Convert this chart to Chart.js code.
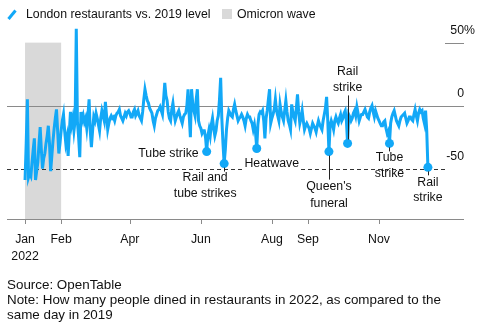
<!DOCTYPE html>
<html><head><meta charset="utf-8">
<script src="https://cdn.jsdelivr.net/npm/chart.js@4"></script>
<style>
html,body{margin:0;padding:0;background:#fff;}
#wrap{position:relative;width:494px;height:333px;font-family:"Liberation Sans",Arial,sans-serif;font-size:12.3px;color:#111;overflow:hidden;}
canvas{position:absolute;left:0;top:0;}
.abs{position:absolute;white-space:nowrap;line-height:14px;}
.foot{position:absolute;left:7px;top:277px;line-height:15px;font-size:13.4px;white-space:nowrap;}
</style></head><body>
<div id="wrap">
<canvas id="c" width="494" height="333"></canvas>
<svg class="abs" style="left:7px;top:9px" width="10" height="11"><line x1="1.5" y1="10" x2="8.5" y2="1.5" stroke="#12a8f7" stroke-width="3"/></svg>
<div class="abs" style="left:26px;top:7px">London restaurants vs. 2019 level</div>
<div class="abs" style="left:222px;top:9px;width:10px;height:10px;background:#d9d9d9"></div>
<div class="abs" style="left:237px;top:7px">Omicron wave</div>
<div class="foot">Source: OpenTable<br>Note: How many people dined in restaurants in 2022, as compared to the<br>same day in 2019</div>
</div>
<script>
// Daily level vs 2019 (%), day 0 = 1 Jan 2022
const janValues = [-59,-30,5,-57,-54,-56,-45,-35,-26,-59,-52,-45,-30,-17,-35,-50,-42,-38,-30,-24,-16,-30,-52,-40,-28,-18,-10,-3,-20,-38,-30];
const febValues = [-20,-12,-7,-20,-30,-25,-40,-22,-5,-15,-10,-20,-12,61,-13,-25,-41,-5,-12,-8,-13,-10,-18,-8,5,-20,-33,-20];
const marValues = [-9,-12,-6,-10,-15,-20,-10,-4,-8,-12,3,-8,-19,-14,-10,-8,-10,-9,-12,-8,-6,-5,-3,-8,-10,-12,-9,-6,-8,-5,-4];
const aprValues = [-6,-9,-9,-5,-3,-8,-6,-4,-8,-10,-12,-5,5,13,8,4,2,-2,-4,-6,-12,-16,-10,-7,-4,-3,-1,-4,-7,5];
const mayValues = [18,8,4,-5,-10,-12,-3,2,-6,-12,-9,-6,-4,-8,-11,-14,-9,-7,-6,0,13,-8,-25,13,2,-4,-8,5,13,-12,-16];
const junValues = [-18,-22,-20,-20,-25,-36.5,-24,-19,-24,-15,-10,-18,-24,-20,-12,-8,5,22,-10,-30,-46,-35,-19,-10,-4,-6,-8,-9,-3,1];
const julValues = [-4,-8,-12,-10,-9,-7,-9,-12,-16,-10,-7,-9,-9,-12,-14,-19,-15,-22,-34,-15,-7,-5,-6,-4,-12,-26,-10,-4,5,13,-14];
const augValues = [-10,-7,-3,5,-4,-8,-12,1,-5,-9,-12,-4,4,-5,-12,-15,-19,1,-5,-9,-12,-2,9,-5,-14,-10,-4,-12,-19,-16,-14];
const sepValues = [-16,-18,-22,-18,-14,-16,-18,-21,-16,-12,-15,-17,-19,-12,-7,-2,7,-12,-36.5,-16,-12,-15,-19,-12,-9,-12,-14,-10,-7,-12];
const octValues = [-10,-6,-4,-12,-30,-7,-9,-12,-10,-6,-4,-8,-1,-6,-12,-9,-7,-7,-5,-3,-6,-9,-10,-5,-2,0,-5,-9,-4,-7,-10];
const novValues = [-12,-14,-16,-16,-13,-12,-18,-22,-20,-30,-14,-9,-6,-4,-8,-12,-14,-16,-12,-9,-8,-7,-6,-10,-14,-12,-9,-9,-11,-12];
const decValues = [-7,-3,-8,-12,-6,-3,-5,-4,-10,-14,-4,-20,-49];

const restaurantLevel = [].concat(janValues,febValues,marValues,aprValues,mayValues,junValues,julValues,augValues,sepValues,octValues,novValues,decValues);

const monthTickDays = [0,31,90,151,212,243,304];
const monthTickLabels = ['Jan','Feb','Apr','Jun','Aug','Sep','Nov'];
const yTickValues = [50,0,-50];
const yTickLabels = ['50','0','-50'];
const omicronDays = [0,31];

const eventDays = [156,171,199,261,277,313,346];
const eventLabels = [['Tube strike'],['Rail and','tube strikes'],['Heatwave'],["Queen's",'funeral'],['Rail','strike'],['Tube','strike'],['Rail','strike']];

const BLUE = '#12a8f7';
const FONT = '12.3px "Liberation Sans", Arial, sans-serif';
const points = restaurantLevel.map((v,i)=>({x:i,y:v}));

// label placement relative to the dot (layout only)
const place = {
  156:{align:'right',dx:-8,dy:[2]},
  171:{align:'center',dx:-19,dy:[14,30],lead:[4,8]},
  199:{align:'center',dx:15,dy:[15],bg:true},
  261:{align:'center',dx:0,dy:[35,52],lead:[4,28]},
  277:{align:'center',dx:0,dy:[-72,-56],lead:[-4,-48]},
  313:{align:'center',dx:0,dy:[14,30],lead:[4,8]},
  346:{align:'center',dx:0,dy:[15,30],lead:[4,8]}
};

function hline(ctx,x0,x1,y){ctx.beginPath();ctx.moveTo(x0,Math.round(y)+0.5);ctx.lineTo(x1,Math.round(y)+0.5);ctx.stroke();}

const decor = {
  id:'decor',
  beforeDatasetsDraw(chart){
    const {ctx,scales:{x,y},chartArea:a}=chart;
    ctx.save();
    const x0=x.getPixelForValue(omicronDays[0]), x1=x.getPixelForValue(omicronDays[1]);
    const yt=y.getPixelForValue(50), yb=a.bottom;
    ctx.fillStyle='#d9d9d9';
    ctx.fillRect(x0,yt,x1-x0,yb-yt);
    ctx.strokeStyle='#8a8a8a'; ctx.lineWidth=1;
    hline(ctx,a.left,a.right,y.getPixelForValue(0));
    hline(ctx,a.right-19,a.right,y.getPixelForValue(50));
    hline(ctx,a.left,a.right,a.bottom);
    monthTickDays.forEach(d=>{
      const px=Math.round(x.getPixelForValue(d))+0.5;
      ctx.beginPath();ctx.moveTo(px,a.bottom);ctx.lineTo(px,a.bottom+5);ctx.stroke();
    });
    ctx.strokeStyle='#333'; ctx.setLineDash([4,3]);
    hline(ctx,a.left,a.right-19,y.getPixelForValue(-50));
    ctx.setLineDash([]);
    ctx.fillStyle='#111'; ctx.font=FONT; ctx.textBaseline='middle';
    ctx.textAlign='center';
    monthTickDays.forEach((d,i)=>{
      ctx.fillText(monthTickLabels[i], x.getPixelForValue(d), a.bottom+21);
    });
    ctx.fillText('2022', x.getPixelForValue(0), a.bottom+38);
    yTickValues.forEach((v,i)=>{
      const py=y.getPixelForValue(v)-12.5;
      ctx.textAlign='right';
      ctx.fillText(yTickLabels[i], a.right, py);
      if(i===0){ctx.textAlign='left';ctx.fillText('%',a.right,py);}
    });
    ctx.restore();
  },
  afterDatasetsDraw(chart){
    const {ctx,scales:{x,y}}=chart;
    ctx.save();
    ctx.font=FONT; ctx.textBaseline='middle';
    eventDays.forEach((d,i)=>{
      const p=place[d];
      const px=x.getPixelForValue(d), py=y.getPixelForValue(restaurantLevel[d]);
      if(p.lead){
        ctx.strokeStyle='#222'; ctx.lineWidth=1;
        ctx.beginPath();ctx.moveTo(Math.round(px)+0.5,py+p.lead[0]);ctx.lineTo(Math.round(px)+0.5,py+p.lead[1]);ctx.stroke();
      }
      ctx.textAlign=p.align;
      eventLabels[i].forEach((t,j)=>{
        const tx=px+p.dx, ty=py+p.dy[j];
        if(p.bg){
          const w=ctx.measureText(t).width;
          ctx.fillStyle='#fff';
          ctx.fillRect(tx-w/2-1,ty-7,w+2,14);
        }
        ctx.fillStyle='#111';
        ctx.fillText(t,tx,ty);
      });
    });
    ctx.restore();
  }
};

new Chart(document.getElementById('c'),{
  type:'line',
  data:{datasets:[{
    data:points,
    borderColor:BLUE,
    borderWidth:3,
    tension:0,
    pointRadius:c=>eventDays.includes(c.raw&&c.raw.x)?4.5:0,
    pointBackgroundColor:BLUE,
    pointBorderWidth:0,
    pointHoverRadius:0,
    fill:false
  }]},
  options:{
    responsive:false,
    animation:false,
    devicePixelRatio:1,
    events:[],
    layout:{padding:{left:7,right:30,top:25,bottom:114}},
    plugins:{legend:{display:false},tooltip:{enabled:false}},
    scales:{
      x:{type:'linear',min:-15.5,max:377,display:false},
      y:{type:'linear',min:-90,max:64,display:false}
    }
  },
  plugins:[decor]
});
</script>
</body></html>
